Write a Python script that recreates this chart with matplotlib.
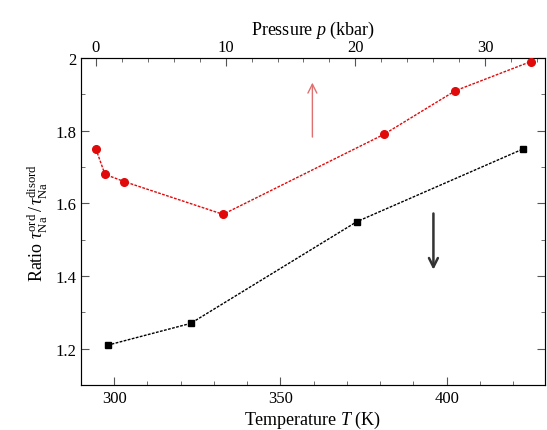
import matplotlib
matplotlib.use("Agg")
import matplotlib.pyplot as plt

plt.rcParams['font.family'] = ['Liberation Serif', 'DejaVu Serif']
plt.rcParams['mathtext.fontset'] = 'custom'
plt.rcParams['mathtext.rm'] = 'Liberation Serif'
plt.rcParams['mathtext.it'] = 'Liberation Serif:italic'

temp_T = [298, 323, 373, 423]
temp_ratio = [1.21, 1.27, 1.55, 1.75]

press_p = [0.0, 0.7, 2.2, 9.8, 22.2, 27.7, 33.5]
press_ratio = [1.75, 1.68, 1.66, 1.57, 1.79, 1.91, 1.99]

fig = plt.figure(figsize=(5.47, 4.31), dpi=100)
ax = fig.add_axes([0.148, 0.104, 0.848, 0.759])
ax.set_xlim(290, 429.5)
ax.set_ylim(1.1, 2.0)
ax.plot(temp_T, temp_ratio, color='black', ls=(0, (2, 1)), lw=1.0,
        marker='s', ms=4.5, zorder=3)
ax.set_xticks([300, 350, 400])
ax.set_xticks(range(290, 430, 10), minor=True)
ax.set_yticks([1.2, 1.4, 1.6, 1.8, 2.0])
ax.set_yticklabels(['1.2', '1.4', '1.6', '1.8', '2'])
ax.set_yticks([1.1 + 0.1 * i for i in range(10)], minor=True)
ax.tick_params(which='both', direction='in', right=True, labelsize=12,
               color='#555555')
ax.tick_params(which='major', length=6)
ax.tick_params(which='minor', length=3)
ax.set_xlabel(r'Temperature $T$ (K)', fontsize=13, labelpad=2)
ax.set_ylabel(r'Ratio $\tau_{\rm Na}^{\rm ord}\,/\,\tau_{\rm Na}^{\rm disord}$',
              fontsize=13, labelpad=4)
for s in ax.spines.values():
    s.set_color('#555555')

ax2 = ax.twiny()
ax2.set_xlim(-1.15, 34.6)
ax2.plot(press_p, press_ratio, color='#e00a0a', ls=(0, (2, 1)), lw=1.0,
         marker='o', ms=5.5, zorder=3)
ax2.set_xticks([0, 10, 20, 30])
ax2.set_xticks(range(0, 35, 2), minor=True)
ax2.tick_params(which='both', direction='in', labelsize=12, color='#555555', pad=2)
ax2.tick_params(which='major', length=6)
ax2.tick_params(which='minor', length=3)
ax2.set_xlabel(r'Pressure $p$ (kbar)', fontsize=13, labelpad=4)

ax.annotate('', xy=(359.6, 1.94), xytext=(359.6, 1.775),
            arrowprops=dict(arrowstyle='->', color='#e07070', lw=1.0,
                            mutation_scale=16))
ax.annotate('', xy=(396, 1.41), xytext=(396, 1.58),
            arrowprops=dict(arrowstyle='->', color='#333333', lw=1.8,
                            mutation_scale=16))

fig.savefig('out.png', dpi=100)
